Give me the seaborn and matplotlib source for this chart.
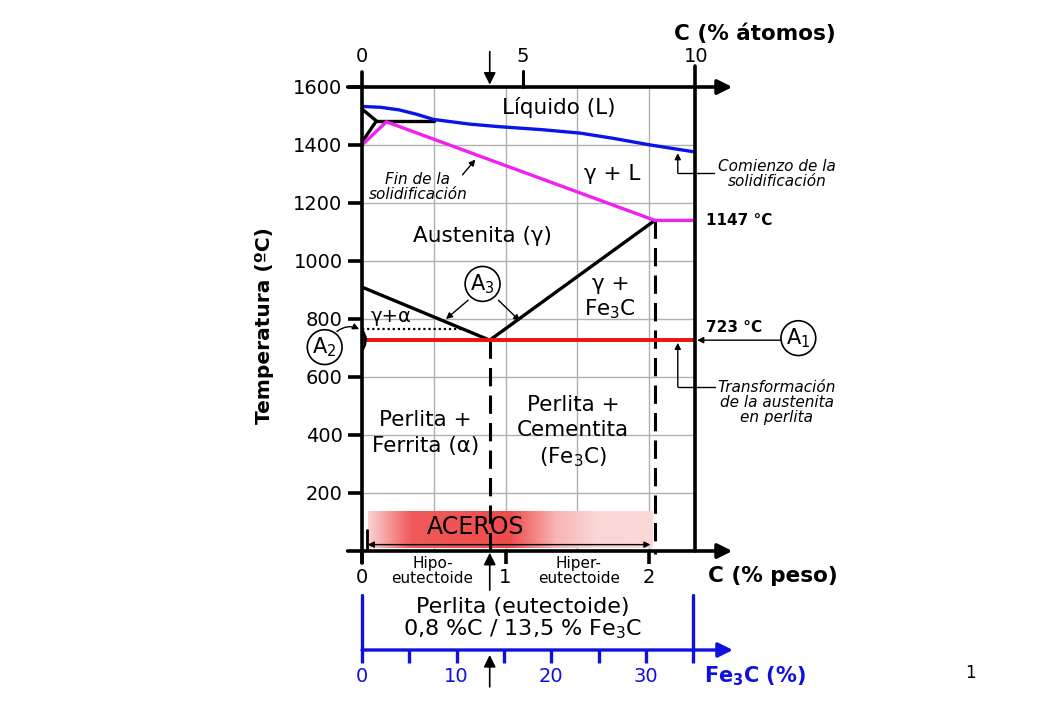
import numpy as np
import matplotlib
matplotlib.use("Agg")
import matplotlib.pyplot as plt
from matplotlib.colors import LinearSegmentedColormap
import seaborn as sns

# curvas del diagrama Fe-C (C en % peso, T en ºC)
liquidus_c = [0, 0.13, 0.26, 0.38, 0.5, 0.75, 0.96, 1.25, 1.52, 1.75, 2.01, 2.32]
liquidus_t = [1533, 1530, 1521, 1506, 1488, 1472, 1463, 1453, 1441, 1423, 1400, 1376]
solidus_c = [0, 0.17, 2.04, 2.32]
solidus_t = [1400, 1480, 1140, 1140]
delta_c = [0, 0.1, 0]
delta_t = [1524, 1483, 1410]
peritectic_c = [0.1, 0.5]
peritectic_t = [1483, 1483]
a3_c = [0, 0.89]
a3_t = [910, 727]
acm_c = [0.89, 2.04]
acm_t = [727, 1140]
eutectoid_c = [0, 2.32]
eutectoid_t = [727, 727]
a2_c = [0, 0.7]
a2_t = [765, 765]
alpha_c = [0, 0.025, 0.02, 0]
alpha_t = [765, 735, 712, 690]
eutectoid_x = 0.89
eutectic_x = 2.04
eutectic_t = 1140

temp_ticks = [200, 400, 600, 800, 1000, 1200, 1400, 1600]
peso_ticks = [0, 1, 2]
peso_grid = [0.5, 1, 1.5, 2]
atomos_ticks = [0, 5, 10]
fe3c_ticks = [0, 5, 10, 15, 20, 25, 30, 35]
fe3c_labels = ["0", "", "10", "", "20", "", "30", ""]
c_max = 2.32
fe3c_eutectoide = 13.5


def at_to_wt(at):
    return at * 12.0 / (at * 12.0 + (100 - at) * 55.85) * 100


sns.set_style("white")
plt.rcParams["font.family"] = ["DejaVu Sans"]
plt.rcParams["mathtext.fontset"] = "dejavusans"
plt.rcParams["text.color"] = "black"
plt.rcParams["xtick.color"] = "black"
plt.rcParams["ytick.color"] = "black"
plt.rcParams["axes.labelcolor"] = "black"

fig = plt.figure(figsize=(10.4, 7.2), dpi=100)
ax = fig.add_axes([362 / 1040, 1 - 551 / 720, 333 / 1040, 464 / 720])
ax.set_xlim(0, c_max)
ax.set_ylim(0, 1600)
for s in ax.spines.values():
    s.set_visible(False)
ax.patch.set_alpha(0)

# rejilla
for x in peso_grid:
    ax.plot([x, x], [0, 1600], color="#b0b0b0", lw=1, zorder=0)
for t in temp_ticks[:-1]:
    ax.plot([0, c_max], [t, t], color="#b0b0b0", lw=1, zorder=0)

# franja ACEROS
cmap = LinearSegmentedColormap.from_list(
    "aceros", [(0, "#fbd0d0"), (0.15, "#f05a5a"), (0.5, "#ef4c4c"),
               (0.66, "#f8b4b4"), (0.8, "#fbd6d6"), (1, "#fbd8d8")])
ax.imshow(np.linspace(0, 1, 400)[None, :], extent=(0.04, 2.02, 10, 135),
          aspect="auto", cmap=cmap, zorder=1)

# curvas
lw = 2.4
sns.lineplot(x=liquidus_c, y=liquidus_t, ax=ax, color="#0a14e6", lw=lw, sort=False, estimator=None, zorder=4)
sns.lineplot(x=delta_c, y=delta_t, ax=ax, color="black", lw=lw, sort=False, estimator=None, zorder=3)
sns.lineplot(x=peritectic_c, y=peritectic_t, ax=ax, color="black", lw=lw, sort=False, estimator=None, zorder=3)
sns.lineplot(x=solidus_c, y=solidus_t, ax=ax, color="#f020f0", lw=lw, sort=False, estimator=None, zorder=4)
sns.lineplot(x=a3_c, y=a3_t, ax=ax, color="black", lw=lw, sort=False, estimator=None, zorder=3)
sns.lineplot(x=acm_c, y=acm_t, ax=ax, color="black", lw=lw, sort=False, estimator=None, zorder=3)
sns.lineplot(x=eutectoid_c, y=eutectoid_t, ax=ax, color="#ee1111", lw=2.8, sort=False, estimator=None, zorder=4)
sns.lineplot(x=alpha_c, y=alpha_t, ax=ax, color="black", lw=2, sort=False, estimator=None, zorder=5)
ax.plot(a2_c, a2_t, color="black", lw=1.6, ls=(0, (1, 1.3)), zorder=3)
ax.plot([eutectoid_x, eutectoid_x], [eutectoid_t[0], -10], color="black", lw=2.2,
        ls=(0, (6, 3)), zorder=3, clip_on=False)
ax.plot([eutectic_x, eutectic_x], [eutectic_t, -10], color="black", lw=2.2,
        ls=(0, (6, 3)), zorder=3, clip_on=False)

# ejes dibujados
ax.plot([0, 0], [-42, 1650], color="black", lw=2.6, clip_on=False, zorder=6)
ax.plot([c_max, c_max], [0, 1672], color="black", lw=2.6, clip_on=False, zorder=6)
arrow_kw = dict(arrowstyle="-|>", lw=2.6, color="black", mutation_scale=22, shrinkA=0, shrinkB=0)
ax.annotate("", xy=(2.58, 1600), xytext=(-0.1, 1600), arrowprops=arrow_kw, annotation_clip=False, zorder=6)
ax.annotate("", xy=(2.58, 0), xytext=(-0.1, 0), arrowprops=arrow_kw, annotation_clip=False, zorder=6)

# ticks temperatura y % peso
ax.set_yticks(temp_ticks)
ax.set_xticks(peso_ticks)
ax.tick_params(axis="y", left=True, length=10, width=2.6, labelsize=14, pad=4)
ax.tick_params(axis="x", bottom=True, length=9, width=2.6, labelsize=14, pad=3)
ax.set_ylabel("")
ax.set_xlabel("")
fig.text(265 / 1040, 1 - 326 / 720, "Temperatura (ºC)", rotation=90, ha="center", va="center",
         fontsize=14.5, fontweight="bold")

# eje superior (% átomos)
for at in atomos_ticks:
    xw = at_to_wt(at)
    if 0 < at < 10:
        ax.plot([xw, xw], [1600, 1655], color="black", lw=2.2, clip_on=False)
    ax.text(xw, 1705, str(at), ha="center", va="center", fontsize=14)
ax.text(2.74, 1783, "C (% átomos)", ha="center", va="center", fontsize=15.5, fontweight="bold")
ax.text(2.86, -86, "C (% peso)", ha="center", va="center", fontsize=15.5, fontweight="bold")

# flechas eutectoide
small_arrow = dict(arrowstyle="-|>", lw=1.2, color="black", mutation_scale=18, shrinkA=0, shrinkB=0)
ax.annotate("", xy=(eutectoid_x, 1608), xytext=(eutectoid_x, 1722), arrowprops=small_arrow, annotation_clip=False)
ax.annotate("", xy=(eutectoid_x, -6), xytext=(eutectoid_x, -135), arrowprops=small_arrow, annotation_clip=False)

# textos de regiones
fs = 15.5
region_kw = dict(ha="center", va="center", fontsize=fs, linespacing=1.15)
ax.text(1.37, 1531, "Líquido (L)", **region_kw)
ax.text(1.74, 1300, "γ + L", **region_kw)
ax.text(0.84, 1086, "Austenita (γ)", **region_kw)
ax.text(1.73, 874, "γ +\nFe$_3$C", ha="center", va="center", fontsize=fs, linespacing=1.2)
ax.text(0.205, 808, "γ+α", ha="center", va="center", fontsize=14)
ax.text(0.44, 407, "Perlita +\nFerrita (α)", ha="center", va="center", fontsize=fs, linespacing=1.4)
ax.text(1.47, 410, "Perlita +\nCementita\n(Fe$_3$C)", ha="center", va="center", fontsize=fs, linespacing=1.3)
ax.text(0.79, 83, "ACEROS", ha="center", va="center", fontsize=17, zorder=5)
ax.text(0.49, -70, "Hipo-\neutectoide", ha="center", va="center", fontsize=11, linespacing=1.0)
ax.text(1.51, -70, "Hiper-\neutectoide", ha="center", va="center", fontsize=11, linespacing=1.0)

# doble flecha ACEROS
ax.annotate("", xy=(0.04, 22), xytext=(2.01, 22),
            arrowprops=dict(arrowstyle="<|-|>", lw=1.0, color="black", mutation_scale=9, shrinkA=0, shrinkB=0),
            zorder=5)
ax.plot([0.035, 0.035], [0, 72], color="black", lw=2, zorder=5)

# notas en cursiva
note_kw = dict(ha="center", va="center", fontsize=11, style="italic", linespacing=1.0)
ax.text(0.39, 1255, "Fin de la\nsolidificación", **note_kw)
ax.annotate("", xy=(0.79, 1350), xytext=(0.70, 1297),
            arrowprops=dict(arrowstyle="-|>", lw=1.0, color="black", mutation_scale=9, shrinkA=0, shrinkB=0))
ax.text(2.89, 1300, "Comienzo de la\nsolidificación", clip_on=False, **note_kw)
ax.plot([2.45, 2.20], [1303, 1303], color="black", lw=1.0, clip_on=False)
ax.annotate("", xy=(2.20, 1372), xytext=(2.20, 1303),
            arrowprops=dict(arrowstyle="-|>", lw=1.0, color="black", mutation_scale=9, shrinkA=0, shrinkB=0))
ax.text(2.89, 513, "Transformación\nde la austenita\nen perlita", clip_on=False, **note_kw)
ax.plot([2.46, 2.20], [566, 566], color="black", lw=1.0, clip_on=False)
ax.annotate("", xy=(2.20, 718), xytext=(2.20, 566),
            arrowprops=dict(arrowstyle="-|>", lw=1.0, color="black", mutation_scale=9, shrinkA=0, shrinkB=0))
ax.text(2.63, 1138, "1147 °C", ha="center", va="center", fontsize=11, fontweight="bold")
ax.text(2.59, 772, "723 °C", ha="center", va="center", fontsize=11, fontweight="bold")

# etiquetas circulares
circ = dict(boxstyle="circle,pad=0.25", fc="white", ec="black", lw=1.2)
ax.text(3.04, 734, "A$_1$", ha="center", va="center", fontsize=15, bbox=circ, zorder=7)
ax.annotate("", xy=(2.335, 727), xytext=(2.92, 727),
            arrowprops=dict(arrowstyle="-|>", lw=1.0, color="black", mutation_scale=9, shrinkA=0, shrinkB=0),
            annotation_clip=False)
ax.text(0.84, 921, "A$_3$", ha="center", va="center", fontsize=15, bbox=circ, zorder=7)
for tip, base in [((0.585, 800), (0.74, 865)), ((1.10, 793), (0.95, 865))]:
    ax.annotate("", xy=tip, xytext=base,
                arrowprops=dict(arrowstyle="-|>", lw=1.0, color="black", mutation_scale=9, shrinkA=0, shrinkB=0))
ax.text(-0.26, 703, "A$_2$", ha="center", va="center", fontsize=15, bbox=circ, zorder=7)
ax.annotate("", xy=(-0.02, 765), xytext=(-0.175, 757),
            arrowprops=dict(arrowstyle="-|>", lw=1.0, color="black", mutation_scale=9, shrinkA=0, shrinkB=0,
                            connectionstyle="arc3,rad=-0.3"),
            annotation_clip=False)

# eje Fe3C
blue = "#1010e0"
ax2 = fig.add_axes([362 / 1040, 1 - 650 / 720, 333 / 1040, 55 / 720])
ax2.set_xlim(0, 35.2)
ax2.set_ylim(0, 1)
for s in ax2.spines.values():
    s.set_visible(False)
ax2.patch.set_alpha(0)
ax2.set_yticks([])
ax2.set_xticks(fe3c_ticks)
ax2.set_xticklabels(fe3c_labels)
ax2.tick_params(axis="x", bottom=True, length=9, width=2.4, color=blue, labelcolor=blue,
                labelsize=14, pad=3)
ax2.plot([0, 0], [0, 1], color=blue, lw=2.4, clip_on=False)
ax2.plot([fe3c_ticks[-1], fe3c_ticks[-1]], [0, 1], color=blue, lw=2.4, clip_on=False)
ax2.annotate("", xy=(39.2, 0), xytext=(0, 0),
             arrowprops=dict(arrowstyle="-|>", lw=2.4, color=blue, mutation_scale=22, shrinkA=0, shrinkB=0),
             annotation_clip=False)
ax2.annotate("", xy=(fe3c_eutectoide, -0.09), xytext=(fe3c_eutectoide, -0.67),
             arrowprops=small_arrow, annotation_clip=False)
ax2.text(17, 0.56, "Perlita (eutectoide)\n0,8 %C / 13,5 % Fe$_3$C", ha="center", va="center",
         fontsize=16, linespacing=1.0)
ax2.text(41.6, -0.47, r"Fe$_\mathbf{3}$C (%)", ha="center", va="center", fontsize=15,
         fontweight="bold", color=blue)

fig.text(970 / 1040, 1 - 673 / 720, "1", ha="center", va="center", fontsize=12)

fig.savefig("out.png", dpi=100)
